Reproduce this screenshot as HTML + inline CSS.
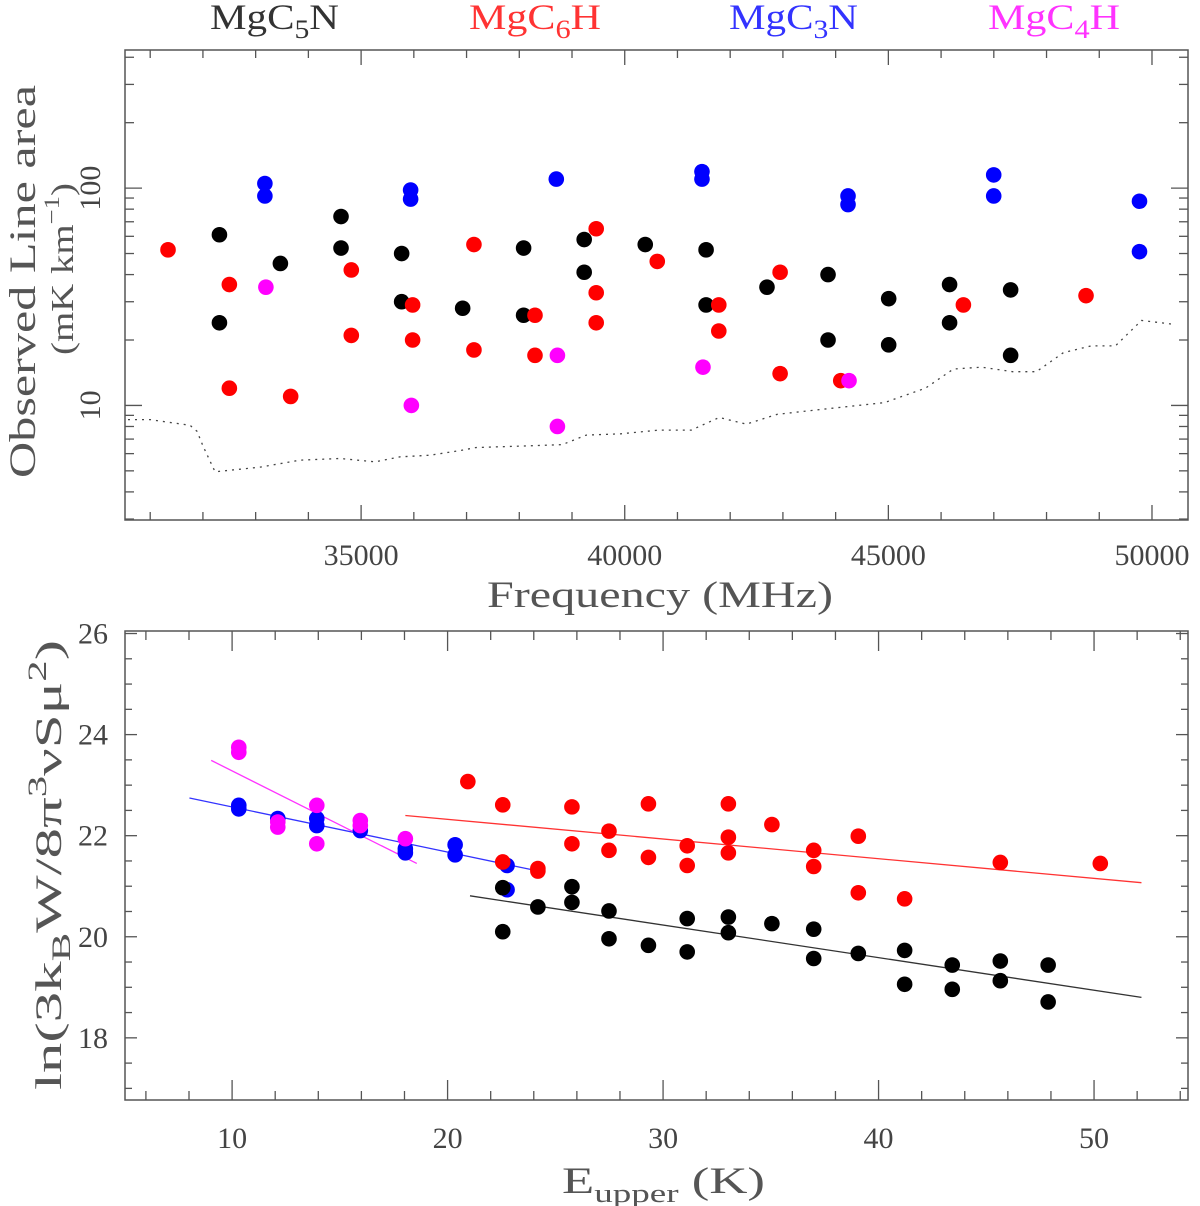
<!DOCTYPE html>
<html><head><meta charset="utf-8">
<style>
html,body{margin:0;padding:0;background:#fff;}
svg{display:block;}
text{font-family:"Liberation Serif","DejaVu Serif",serif;}
</style></head>
<body>
<svg id="chart" width="1200" height="1206" viewBox="0 0 1200 1206" xmlns="http://www.w3.org/2000/svg">
<g id="legend">
<text x="210" y="29" textLength="129" lengthAdjust="spacingAndGlyphs" font-size="36" fill="#333">MgC<tspan font-size="26" dy="9">5</tspan><tspan dy="-9">N</tspan></text>
<text x="469" y="29" textLength="132" lengthAdjust="spacingAndGlyphs" font-size="36" fill="#f33">MgC<tspan font-size="26" dy="9">6</tspan><tspan dy="-9">H</tspan></text>
<text x="729" y="29" textLength="129" lengthAdjust="spacingAndGlyphs" font-size="36" fill="#33f">MgC<tspan font-size="26" dy="9">3</tspan><tspan dy="-9">N</tspan></text>
<text x="988" y="29" textLength="132" lengthAdjust="spacingAndGlyphs" font-size="36" fill="#f3f">MgC<tspan font-size="26" dy="9">4</tspan><tspan dy="-9">H</tspan></text>
</g>
<text transform="translate(35,478) rotate(-90)" textLength="393" lengthAdjust="spacingAndGlyphs" font-size="37" fill="#555">Observed Line area</text>
<text transform="translate(73,355) rotate(-90)" textLength="172" lengthAdjust="spacingAndGlyphs" font-size="32" fill="#555">(mK km<tspan font-size="22" dy="-14">−1</tspan><tspan dy="14">)</tspan></text>
<text x="487" y="607" textLength="346" lengthAdjust="spacingAndGlyphs" font-size="37" fill="#555">Frequency (MHz)</text>
<text transform="translate(61,1090) rotate(-90)" textLength="450" lengthAdjust="spacingAndGlyphs" font-size="37" fill="#555">ln(3k<tspan font-size="26" dy="9">B</tspan><tspan dy="-9">W/8π</tspan><tspan font-size="26" dy="-15">3</tspan><tspan dy="15">νSμ</tspan><tspan font-size="26" dy="-15">2</tspan><tspan dy="15">)</tspan></text>
<text x="562" y="1193" textLength="203" lengthAdjust="spacingAndGlyphs" font-size="37" fill="#555">E<tspan font-size="26" dy="9">upper</tspan><tspan dy="-9"> (K)</tspan></text>
<g id="topPanel"></g>
<g id="botPanel"></g>
</svg>
<script>
// ---- Top panel data (Frequency MHz, line area mK km/s) ----
const c5nFreq = [32313,32313,33469,34619,34619,35769,35769,36926,38082,38082,39231,39231,40389,41543,41543,42698,43856,43856,45006,45006,46161,46161,47319,47319];
const c5nArea = [61,24,45,74,53,50,30,28,53,26,58,41,55,52,29,35,40,20,31,19,36,24,34,17];
const c6hFreq = [31338,32501,32501,33664,34814,34814,35977,35977,37140,37140,38298,38298,39459,39459,39459,40617,41784,41784,42947,42947,44097,46423,48749];
const c6hArea = [52,36,12,11,42,21,29,20,55,18,26,17,65,33,24,46,29,22,41,14,13,29,32];
const c3nFreq = [33175,33175,35939,35939,38702,41465,41465,44235,44235,46998,46998,49763,49763];
const c3nArea = [105,92,98,89,110,119,110,92,84,115,92,87,51];
const c4hFreq = [33194,35953,38723,38723,41484,44254];
const c4hArea = [35,10,17,8,15,13];
const noiseFreq = [30579,31000,31756,31888,32002,32230,33084,33843,34602,35266,35741,36309,36879,37182,38036,38814,39269,39915,40655,41262,41793,42306,42894,43748,44924,45702,46233,46765,47353,47808,48321,48852,49307,49801,50427];
const noiseArea = [8.6,8.6,8.1,7.6,6.5,4.95,5.2,5.6,5.7,5.5,5.8,5.9,6.2,6.4,6.5,6.6,7.3,7.4,7.7,7.7,8.8,8.2,9.1,9.6,10.3,12.0,14.7,15.0,14.3,14.3,17.5,18.8,18.8,24.6,23.6];
const topXTicks = [35000,40000,45000,50000];
const topYTicks = [10,100];

// ---- Bottom panel data (E_upper K, ln value) ----
const c5nE = [22.56,22.56,24.19,25.77,25.77,27.49,27.49,29.32,31.12,31.12,33.03,33.03,35.05,36.99,36.99,39.06,41.21,41.21,43.42,43.42,45.65,45.65,47.87,47.87];
const c5nL = [20.97,20.10,20.59,20.99,20.68,20.51,19.96,19.83,20.36,19.70,20.39,20.08,20.26,20.15,19.57,19.67,19.73,19.06,19.44,18.96,19.52,19.13,19.44,18.71];
const c6hE = [20.94,22.56,22.56,24.19,24.19,25.77,25.77,27.49,27.49,29.32,29.32,31.12,31.12,33.03,33.03,33.03,35.05,36.99,36.99,39.06,39.06,41.21,45.65,50.29];
const c6hL = [23.07,22.61,21.48,21.35,21.30,22.57,21.84,22.09,21.71,22.63,21.57,21.80,21.41,22.63,21.97,21.66,22.22,21.71,21.39,21.99,20.87,20.75,21.47,21.45];
const c3nE = [10.31,10.31,12.12,13.93,13.93,15.95,18.04,18.04,20.35,20.35,22.76,22.76];
const c3nL = [22.60,22.53,22.34,22.34,22.20,22.10,21.74,21.66,21.82,21.62,21.41,20.93];
const c4hE = [10.31,10.31,12.12,12.12,13.93,13.93,15.95,15.95,18.04];
const c4hL = [23.75,23.65,22.27,22.17,22.60,21.84,22.30,22.20,21.94];
const fitC5nE = [21.04,52.2], fitC5nL = [20.81,18.80];
const fitC6hE = [18.04,52.2], fitC6hL = [22.40,21.07];
const fitC3nE = [8.02,23.87], fitC3nL = [22.745,21.33];
const fitC4hE = [9.03,18.57], fitC4hL = [23.49,21.45];
const botXTicks = [10,20,30,40,50];
const botYTicks = [18,20,22,24,26];

const NS='http://www.w3.org/2000/svg';
function mk(parent,tag,attrs){const e=document.createElementNS(NS,tag);for(const k in attrs)e.setAttribute(k,attrs[k]);parent.appendChild(e);return e;}
const AX='#555';

// Top axes
const T={l:125,r:1188,t:50,b:520,x0:30522,x1:50683,ylo:Math.log10(2.97),yhi:Math.log10(432)};
const tx=f=>T.l+(f-T.x0)/(T.x1-T.x0)*(T.r-T.l);
const ty=v=>T.b-(Math.log10(v)-T.ylo)/(T.yhi-T.ylo)*(T.b-T.t);
const topG=document.getElementById('topPanel');
const tf=mk(topG,'rect',{x:T.l,y:T.t,width:T.r-T.l,height:T.b-T.t,fill:'none',stroke:AX,'stroke-width':1.5});


for(let f=31000;f<=50000;f+=1000){const maj=f%5000===0,L=maj?15:8;const x=tx(f);
 mk(topG,'line',{x1:x,x2:x,y1:T.b,y2:T.b-L,stroke:AX,'stroke-width':1.3});
 mk(topG,'line',{x1:x,x2:x,y1:T.t,y2:T.t+L,stroke:AX,'stroke-width':1.3});}
for(let d=1;d<=100;d*=10)for(let m=1;m<=9;m++){const v=m*d;if(v<3||v>432)continue;const y=ty(v),L=m===1?17:9;
 mk(topG,'line',{x1:T.l,x2:T.l+L,y1:y,y2:y,stroke:AX,'stroke-width':1.3});
 mk(topG,'line',{x1:T.r,x2:T.r-L,y1:y,y2:y,stroke:AX,'stroke-width':1.3});}
topXTicks.forEach(f=>{const t=mk(topG,'text',{x:tx(f),y:565,'text-anchor':'middle','font-size':30,fill:'#444'});t.textContent=f;
 
 });
topYTicks.forEach(v=>{const t=mk(topG,'text',{transform:`translate(100,${ty(v)}) rotate(-90)`,'text-anchor':'middle','font-size':30,fill:'#444'});t.textContent=v;
 
 });
const np=mk(topG,'polyline',{points:noiseFreq.map((f,i)=>tx(f)+','+ty(noiseArea[i])).join(' '),fill:'none',stroke:'#444','stroke-width':1.3,'stroke-dasharray':'2 5'});


function topSeries(fs,vs,col,name){fs.forEach((f,i)=>{const c=mk(topG,'circle',{cx:tx(f),cy:ty(vs[i]),r:7.8,fill:col});
 
 });}
topSeries(c5nFreq,c5nArea,'#000','mgc5n');
topSeries(c3nFreq,c3nArea,'#00f','mgc3n');
topSeries(c6hFreq,c6hArea,'#f00','mgc6h');
topSeries(c4hFreq,c4hArea,'#f0f','mgc4h');

// Bottom axes
const B={l:125,r:1188,t:631,b:1100,x0:5.03,x1:54.36,y0:16.77,y1:26.05};
const bx=e=>B.l+(e-B.x0)/(B.x1-B.x0)*(B.r-B.l);
const by=v=>B.b-(v-B.y0)/(B.y1-B.y0)*(B.b-B.t);
const botG=document.getElementById('botPanel');
const bf=mk(botG,'rect',{x:B.l,y:B.t,width:B.r-B.l,height:B.b-B.t,fill:'none',stroke:AX,'stroke-width':1.5});


for(let e=6;e<=54;e+=2){const maj=e%10===0,L=maj?20:9,x=bx(e);
 mk(botG,'line',{x1:x,x2:x,y1:B.b,y2:B.b-L,stroke:AX,'stroke-width':1.3});
 mk(botG,'line',{x1:x,x2:x,y1:B.t,y2:B.t+L,stroke:AX,'stroke-width':1.3});}
for(let v=17;v<=26;v+=0.5){const y=by(v),L=v%2===0?12:7;
 mk(botG,'line',{x1:B.l,x2:B.l+L,y1:y,y2:y,stroke:AX,'stroke-width':1.3});
 mk(botG,'line',{x1:B.r,x2:B.r-L,y1:y,y2:y,stroke:AX,'stroke-width':1.3});}
botXTicks.forEach(e=>{const t=mk(botG,'text',{x:bx(e),y:1148,'text-anchor':'middle','font-size':30,fill:'#444'});t.textContent=e;
 
 });
botYTicks.forEach(v=>{const t=mk(botG,'text',{x:108,y:by(v)+10,'text-anchor':'end','font-size':30,fill:'#444'});t.textContent=v;
 
 });
function fit(es,ls,col,name){const l=mk(botG,'line',{x1:bx(es[0]),y1:by(ls[0]),x2:bx(es[1]),y2:by(ls[1]),stroke:col,'stroke-width':1.3});
 
 }
fit(fitC5nE,fitC5nL,'#333','mgc5n');
fit(fitC6hE,fitC6hL,'#f33','mgc6h');
fit(fitC3nE,fitC3nL,'#33f','mgc3n');
fit(fitC4hE,fitC4hL,'#f3f','mgc4h');
function botSeries(es,ls,col,name){es.forEach((e,i)=>{const c=mk(botG,'circle',{cx:bx(e),cy:by(ls[i]),r:7.8,fill:col});
 
 });}
botSeries(c3nE,c3nL,'#00f','mgc3n');
botSeries(c4hE,c4hL,'#f0f','mgc4h');
botSeries(c5nE,c5nL,'#000','mgc5n');
botSeries(c6hE,c6hL,'#f00','mgc6h');
</script>
</body></html>
